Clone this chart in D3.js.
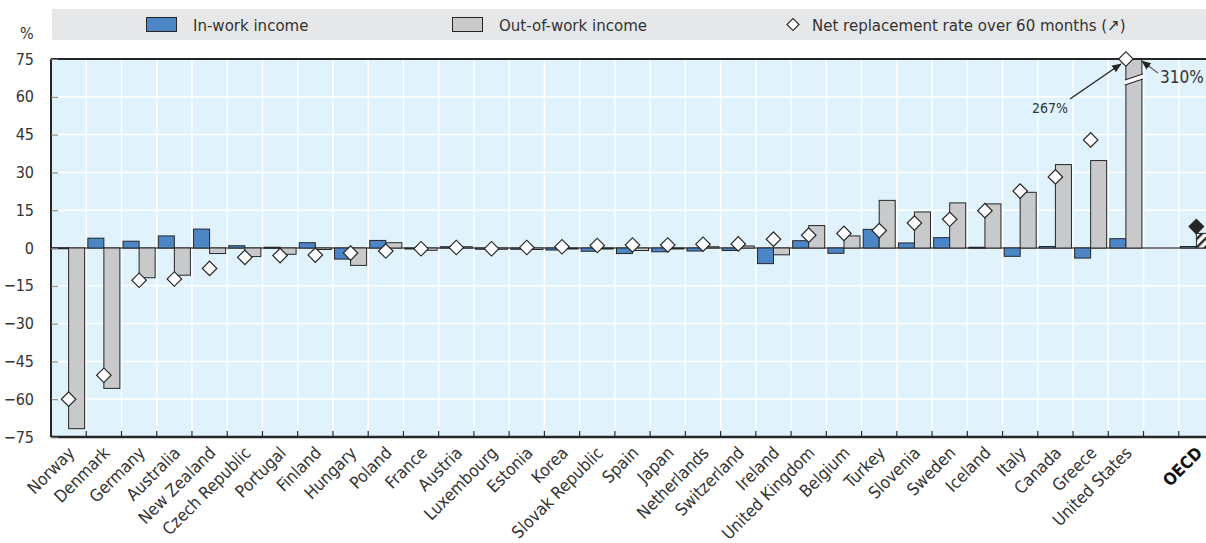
<!DOCTYPE html>
<html>
<head>
<meta charset="utf-8">
<script src="https://cdn.jsdelivr.net/npm/d3@7"></script>
<style>
  body { margin: 0; background: #fff; }
  svg text { font-family: "Liberation Sans Narrow", "Arial Narrow", "DejaVu Sans Condensed", sans-serif; fill: #333; }
</style>
</head>
<body>
<svg width="1206" height="543"></svg>
<script>
'use strict';

// chart data (percent)
var countries = ["Norway", "Denmark", "Germany", "Australia", "New Zealand", "Czech Republic", "Portugal",
    "Finland", "Hungary", "Poland", "France", "Austria", "Luxembourg", "Estonia", "Korea", "Slovak Republic",
    "Spain", "Japan", "Netherlands", "Switzerland", "Ireland", "United Kingdom", "Belgium", "Turkey",
    "Slovenia", "Sweden", "Iceland", "Italy", "Canada", "Greece", "United States", "", "OECD"];
var inWork = [0.1, 3.9, 2.7, 4.8, 7.5, 0.9, 0.3, 2.1, -4.4, 3.0, -0.4, 0.5, -0.5, -0.5, -0.8, -1.3,
    -2.2, -1.5, -1.2, -1.0, -6.2, 2.9, -2.1, 7.4, 2.0, 4.1, 0.3, -3.3, 0.6, -4.0, 3.7, null, 0.6];
var outOfWork = [-71.7, -55.7, -11.8, -10.8, -2.2, -3.4, -2.5, -0.6, -6.9, 2.1, -0.9, 0.5, -0.5, -0.6, -0.4, -0.3,
    -1.0, -0.3, 0.5, 0.8, -2.7, 8.9, 4.8, 18.9, 14.3, 17.9, 17.5, 22.1, 33.1, 34.7, 310, null, 5.8];
var netRate = [-60.0, -50.5, -12.8, -12.3, -8.1, -3.7, -3.0, -2.8, -2.0, -1.2, -0.3, 0.2, -0.3, 0.2, 0.5, 1.0,
    1.2, 1.2, 1.5, 1.6, 3.5, 5.1, 5.8, 6.9, 9.9, 11.4, 14.8, 22.6, 28.2, 42.9, 267, null, 8.5];
var yTicks = [75, 60, 45, 30, 15, 0, -15, -30, -45, -60, -75];

var legendItems = [
    { label: "In-work income", kind: "blue", x: 146 },
    { label: "Out-of-work income", kind: "grey", x: 452 },
    { label: "Net replacement rate over 60 months (\u2197)", kind: "diamond", x: 786 }
];

var BLUE = "#4d86c6", GREY = "#c8c9cb", DARK = "#262626", BG = "#e0f2fc";

var svg = d3.select("svg");
var defs = svg.append("defs");
var hatch = defs.append("pattern").attr("id", "hatch").attr("patternUnits", "userSpaceOnUse")
    .attr("width", 6).attr("height", 6).attr("patternTransform", "rotate(-45)");
hatch.append("rect").attr("width", 6).attr("height", 6).attr("fill", "#fff");
hatch.append("rect").attr("width", 6).attr("height", 2.4).attr("fill", DARK);

var plotLeft = 51, plotRight = 1214, plotTop = 59, plotBottom = 437;

var x = d3.scaleBand().domain(d3.range(countries.length)).range([plotLeft, plotRight]).padding(0);
var sub = d3.scaleBand().domain([0, 1]).range([0, x.bandwidth()]).paddingInner(0).paddingOuter(0.1);
var y = d3.scaleLinear().domain([-75, 75]).range([plotBottom, plotTop]).clamp(true);

// legend band
svg.append("rect").attr("x", 52).attr("y", 9).attr("width", 1154).attr("height", 31).attr("fill", "#e6e7e8");
var leg = svg.selectAll(".leg").data(legendItems).enter().append("g")
    .attr("transform", function(d) { return "translate(" + d.x + ",0)"; });
leg.filter(function(d) { return d.kind !== "diamond"; }).append("rect")
    .attr("x", 0.5).attr("y", 17.5).attr("width", 30).attr("height", 14)
    .attr("fill", function(d) { return d.kind === "blue" ? BLUE : GREY; })
    .attr("stroke", DARK).attr("stroke-width", 1);
leg.filter(function(d) { return d.kind === "diamond"; }).append("path")
    .attr("d", d3.symbol(d3.symbolSquare, 72)())
    .attr("transform", "translate(7,24.5) rotate(45)")
    .attr("fill", "#fff").attr("stroke", DARK).attr("stroke-width", 1.2);
leg.append("text")
    .attr("x", function(d) { return d.kind === "diamond" ? 26 : 47; })
    .attr("y", 31).attr("font-size", 16.7)
    .text(function(d) { return d.label; });

// plot background + grid
svg.append("rect").attr("x", plotLeft).attr("y", plotTop).attr("width", 1206 - plotLeft).attr("height", plotBottom - plotTop).attr("fill", BG);
svg.append("g").selectAll("line").data(yTicks).enter().append("line")
    .attr("x1", plotLeft).attr("x2", 1206)
    .attr("y1", function(d) { return y(d); }).attr("y2", function(d) { return y(d); })
    .attr("stroke", "#fff").attr("stroke-width", 1.5);
svg.append("g").selectAll("line").data(d3.range(1, countries.length)).enter().append("line")
    .attr("x1", function(i) { return x(i); }).attr("x2", function(i) { return x(i); })
    .attr("y1", plotTop).attr("y2", plotBottom)
    .attr("stroke", "#fff").attr("stroke-width", 1.5);

// zero line
svg.append("line").attr("x1", plotLeft).attr("x2", 1206).attr("y1", y(0)).attr("y2", y(0))
    .attr("stroke", "#555").attr("stroke-width", 1.5);

var idx = d3.range(countries.length).filter(function(i) { return inWork[i] !== null; });

// in-work bars
svg.append("g").selectAll("rect").data(idx).enter().append("rect")
    .attr("x", function(i) { return x(i) + sub(0); })
    .attr("width", sub.bandwidth())
    .attr("y", function(i) { return y(Math.max(0, inWork[i])); })
    .attr("height", function(i) { return Math.max(1, Math.abs(y(inWork[i]) - y(0))); })
    .attr("fill", BLUE).attr("stroke", DARK).attr("stroke-width", 1);

// out-of-work bars
svg.append("g").selectAll("rect").data(idx).enter().append("rect")
    .attr("x", function(i) { return x(i) + sub(1); })
    .attr("width", sub.bandwidth())
    .attr("y", function(i) { return y(Math.max(0, outOfWork[i])); })
    .attr("height", function(i) { return Math.max(1, Math.abs(y(outOfWork[i]) - y(0))); })
    .attr("fill", function(i) { return countries[i] === "OECD" ? "url(#hatch)" : GREY; })
    .attr("stroke", DARK).attr("stroke-width", 1);

// break marks on the clipped United States bar
var us = countries.indexOf("United States");
var bx0 = x(us) + sub(1) - 1, bx1 = bx0 + sub.bandwidth() + 2;
var brk = svg.append("g");
brk.append("path")
    .attr("d", "M" + bx0 + ",80 L" + bx1 + ",74 L" + bx1 + ",79 L" + bx0 + ",85 Z")
    .attr("fill", "#fff");
[80, 85].forEach(function(b) {
    brk.append("line").attr("x1", bx0).attr("x2", bx1).attr("y1", b).attr("y2", b - 6)
        .attr("stroke", DARK).attr("stroke-width", 1.2);
});

// frame
svg.append("line").attr("x1", plotLeft).attr("x2", 1206).attr("y1", plotTop).attr("y2", plotTop).attr("stroke", DARK).attr("stroke-width", 2);
svg.append("line").attr("x1", plotLeft).attr("x2", 1206).attr("y1", plotBottom).attr("y2", plotBottom).attr("stroke", DARK).attr("stroke-width", 2.5);
svg.append("line").attr("x1", plotLeft).attr("x2", plotLeft).attr("y1", plotTop).attr("y2", plotBottom).attr("stroke", DARK).attr("stroke-width", 2);

// axes
var yAxis = svg.append("g").attr("transform", "translate(" + plotLeft + ",0)")
    .call(d3.axisLeft(y).tickValues(yTicks).tickSize(-7).tickPadding(17));
yAxis.select(".domain").remove();
yAxis.selectAll("line").attr("stroke", "#777");
yAxis.selectAll("text").attr("font-size", 16).style("fill", "#333");

var xAxis = svg.append("g").attr("transform", "translate(0," + plotBottom + ")");
xAxis.selectAll("line").data(d3.range(1, countries.length)).enter().append("line")
    .attr("x1", function(i) { return x(i); }).attr("x2", function(i) { return x(i); })
    .attr("y1", 0).attr("y2", -6).attr("stroke", DARK).attr("stroke-width", 1.2);
xAxis.selectAll("text").data(idx).enter().append("text")
    .attr("transform", function(i) { return "translate(" + (x(i) + x.bandwidth() / 2 + 7) + ",17) rotate(-45)"; })
    .attr("text-anchor", "end")
    .attr("font-size", 17)
    .attr("font-weight", function(i) { return countries[i] === "OECD" ? "bold" : null; })
    .style("fill", function(i) { return countries[i] === "OECD" ? "#111" : "#333"; })
    .text(function(i) { return countries[i]; });

svg.append("text").attr("x", 20).attr("y", 39).attr("font-size", 16).text("%");

// net replacement rate diamonds
svg.append("g").selectAll("path").data(idx).enter().append("path")
    .attr("d", d3.symbol(d3.symbolSquare, 105)())
    .attr("transform", function(i) { return "translate(" + (x(i) + x.bandwidth() / 2) + "," + y(netRate[i]) + ") rotate(45)"; })
    .attr("fill", function(i) { return countries[i] === "OECD" ? DARK : "#fff"; })
    .attr("stroke", DARK).attr("stroke-width", 1.2);

// annotations for off-scale values
defs.append("marker").attr("id", "arr").attr("viewBox", "0 0 10 10").attr("refX", 9).attr("refY", 5)
    .attr("markerWidth", 7).attr("markerHeight", 7).attr("orient", "auto-start-reverse")
    .append("path").attr("d", "M0,1 L10,5 L0,9 Z").attr("fill", DARK);
var usCx = x(us) + x.bandwidth() / 2;
svg.append("line").attr("x1", 1070).attr("y1", 99).attr("x2", usCx - 5).attr("y2", y(netRate[us]) + 5)
    .attr("stroke", DARK).attr("stroke-width", 1.4).attr("marker-end", "url(#arr)");
svg.append("text").attr("x", 1032).attr("y", 113).attr("font-size", 14).text(netRate[us] + "%");
svg.append("line").attr("x1", 1158).attr("y1", 73).attr("x2", bx1 - 1).attr("y2", plotTop + 2)
    .attr("stroke", "#666").attr("stroke-width", 1.4).attr("marker-end", "url(#arr)");
svg.append("text").attr("x", 1160).attr("y", 83).attr("font-size", 17).text(outOfWork[us] + "%");
</script>
</body>
</html>
